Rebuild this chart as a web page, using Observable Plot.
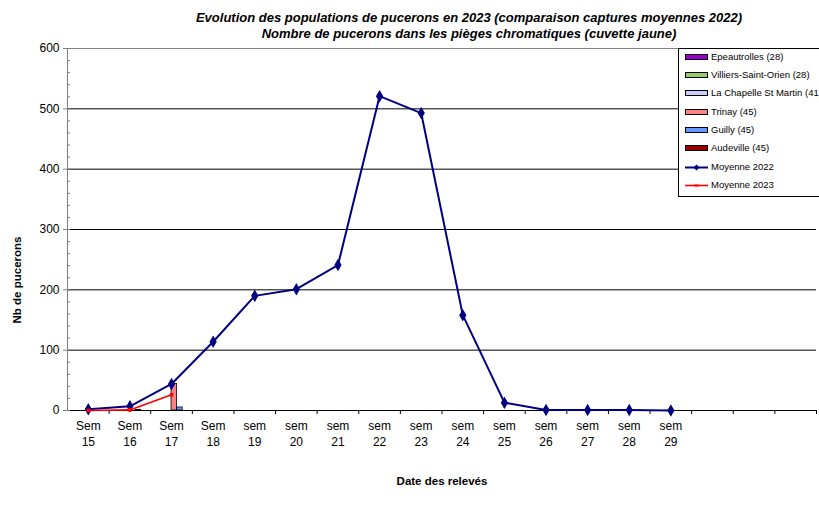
<!DOCTYPE html>
<html><head><meta charset="utf-8">
<script src="https://cdn.jsdelivr.net/npm/d3@7"></script>
<script src="https://cdn.jsdelivr.net/npm/@observablehq/plot@0.6"></script>
<style>
body{margin:0;background:#fff;font-family:"Liberation Sans",Arial,sans-serif;}
#wrap{position:relative;width:819px;height:520px;overflow:hidden;background:#fff;}
#wrap svg{position:absolute;left:0;top:0;}
.title{position:absolute;left:119px;width:700px;text-align:center;font-weight:bold;font-style:italic;font-size:13px;line-height:16px;color:#000;}
.axt{position:absolute;width:200px;text-align:center;font-weight:bold;font-size:11.5px;line-height:14px;color:#000;}
#legend{position:absolute;left:678px;top:48px;width:160px;height:149px;border:1px solid #000;background:#fff;box-sizing:border-box;}
#legend .row{position:absolute;left:6px;height:14px;font-size:9.5px;line-height:14px;white-space:nowrap;display:flex;align-items:center;}
#legend svg{position:static;margin-right:2px;}
</style></head>
<body>
<div id="wrap">
  <div id="chart"></div>
  <div class="title" style="top:10px">Evolution des populations de pucerons en 2023 (comparaison captures moyennes 2022)</div>
  <div class="title" style="top:26px">Nombre de pucerons dans les pièges chromatiques (cuvette jaune)</div>
  <div class="axt" style="left:-83px;top:273px;transform:rotate(-90deg);">Nb de pucerons</div>
  <div class="axt" style="left:342px;top:474px;">Date des relevés</div>
  <div id="legend"></div>
</div>
<script>
// ---- data ----
const weeks = [15,16,17,18,19,20,21,22,23,24,25,26,27,28,29,30,31,32];
const xLabels = ["Sem\n15","Sem\n16","Sem\n17","Sem\n18","sem\n19","sem\n20","sem\n21","sem\n22","sem\n23","sem\n24","sem\n25","sem\n26","sem\n27","sem\n28","sem\n29","","",""];
const moyenne2022 = [2,7,44,114,190,201,241,521,493,158,13,1,1,1,0,null,null,null];
const moyenne2023 = [0,1,26,null,null,null,null,null,null,null,null,null,null,null,null,null,null,null];
const siteNames = ["Epeautrolles (28)","Villiers-Saint-Orien (28)","La Chapelle St Martin (41)","Trinay (45)","Guilly (45)","Audeville (45)"];
const siteColors = ["#9900CC","#99CC66","#CCCCFF","#FF8080","#6699FF","#990000"];
const epeautrolles = [0,0,0];
const villiers = [0,0,0];
const chapelle = [0,0,0];
const trinay = [0,0,44];
const guilly = [0,1,5];
const audeville = [0,0,0];
const siteValues = [epeautrolles, villiers, chapelle, trinay, guilly, audeville];
const yTicks = [0,100,200,300,400,500,600];
const yGrid = [100,200,300,400,500];
const yMinor = d3.range(0, 601, 20);

// ---- layout ----
const W = 819, H = 520, ML = 67, MR = 3, MT = 48, MB = 110;
const bw = (W - ML - MR) / weeks.length;
const BAR_W = 5.6;

const line22 = weeks.map((w,i)=>({w, v: moyenne2022[i]})).filter(d=>d.v!=null);
const line23 = weeks.map((w,i)=>({w, v: moyenne2023[i]})).filter(d=>d.v!=null);

const barMarks = siteValues.map((vals, s) => {
  const data = vals.map((v,i)=>({w: weeks[i], v})).filter(d=>d.v>0);
  const left = bw/2 + (s-3)*BAR_W;
  return Plot.barY(data, {x: "w", y: "v", fill: siteColors[s], stroke: "#000", strokeWidth: 0.8,
    insetLeft: left, insetRight: bw - left - BAR_W});
});

const chart = Plot.plot({
  width: W, height: H, marginTop: MT, marginBottom: MB, marginLeft: ML, marginRight: MR,
  style: {fontFamily: "'Liberation Sans', Arial, sans-serif", fontSize: "12px", background: "white", color: "#000"},
  x: {type: "band", domain: weeks, padding: 0, round: false, axis: null, label: null},
  y: {domain: [0, 600], axis: null, label: null},
  marks: [
    Plot.ruleY(yGrid, {stroke: "#000", strokeWidth: 1}),
    Plot.ruleY([600], {stroke: "#808080", strokeWidth: 1}),
    ...barMarks,
    Plot.ruleY([0], {stroke: "#000", strokeWidth: 1}),
    Plot.frame({anchor: "left", stroke: "#808080"}),
    Plot.axisY({ticks: yTicks, tickSize: 4, tickPadding: 4, stroke: "#808080", fontSize: 12, label: null}),
    Plot.axisY({ticks: yMinor, tickSize: 3, dx: 3, tickFormat: () => "", stroke: "#808080", label: null}),
    Plot.axisX({ticks: weeks, tickSize: 0, tickPadding: 8, tickFormat: (d)=>xLabels[weeks.indexOf(d)], lineHeight: 1.35, fontSize: 12, label: null}),
    Plot.axisX({ticks: weeks, tickSize: 4, dx: bw/2, tickFormat: () => "", stroke: "#000", label: null}),
    Plot.line(line22, {x: "w", y: "v", stroke: "#000080", strokeWidth: 2}),
    Plot.dot(line22, {x: "w", y: "v", symbol: "diamond", r: 3.8, fill: "#000080"}),
    Plot.line(line23, {x: "w", y: "v", stroke: "#FF0000", strokeWidth: 1.6}),
    Plot.dot(line23, {x: "w", y: "v", symbol: "square", r: 2, fill: "#FF0000"})
  ]
});
document.getElementById("chart").appendChild(chart);

// ---- legend ----
const leg = document.getElementById("legend");
const rowsY = [1, 19, 37, 56, 74, 92, 111, 129];
siteNames.forEach((n, i) => {
  const r = document.createElement("div");
  r.className = "row"; r.style.top = rowsY[i] + "px";
  r.innerHTML = `<svg width="24" height="7"><rect x="0.5" y="0.5" width="22" height="5" fill="${siteColors[i]}" stroke="#000" stroke-width="1"/></svg><span>${n}</span>`;
  leg.appendChild(r);
});
[["Moyenne 2022","#000080",true],["Moyenne 2023","#FF0000",false]].forEach(([n,c,dia], j) => {
  const r = document.createElement("div");
  r.className = "row"; r.style.top = rowsY[6+j] + "px";
  const m = dia ? `<path d="M11.5,0.5 L14.5,3.5 L11.5,6.5 L8.5,3.5Z" fill="${c}"/>` : `<rect x="9.5" y="2.5" width="4" height="2" fill="${c}"/>`;
  r.innerHTML = `<svg width="24" height="7"><line x1="0" x2="23" y1="3.5" y2="3.5" stroke="${c}" stroke-width="${dia?2:1.6}"/>${m}</svg><span>${n}</span>`;
  leg.appendChild(r);
});
</script>
</body></html>
